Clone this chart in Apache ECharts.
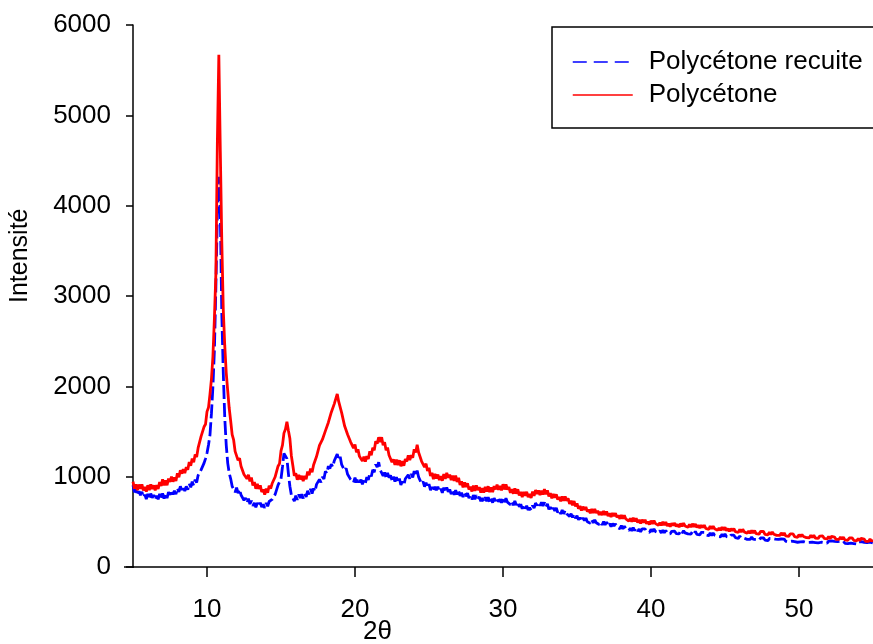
<!DOCTYPE html>
<html lang="fr">
<head>
    <meta charset="UTF-8">
    <title>Polycétone - diffraction</title>
    <script src="https://cdn.jsdelivr.net/npm/echarts@6/dist/echarts.min.js"></script>
    <style>
        html, body { margin: 0; padding: 0; background: #ffffff; }
        #main { width: 873px; height: 644px; }
    </style>
</head>
<body>
<div id="main"></div>

<script type="text/javascript">
    // 2θ grid : 5 -> 55 par pas de 0.1 (une ligne = 2 degrés)
    var thetaStart = 5;
    var thetaStep = 0.1;
    var xTicks = [10, 20, 30, 40, 50];

    // Polycétone recuite (bleu, tirets)
    var recuite = [
        905, 827, 858, 793, 840, 794, 832, 770, 801, 751, 810, 759, 813, 766, 797, 744, 790, 749, 810, 761,
        815, 758, 810, 763, 830, 798, 852, 802, 845, 805, 874, 831, 893, 852, 889, 841, 892, 856, 922, 882,
        945, 902, 968, 935, 1015, 1006, 1075, 1075, 1150, 1200, 1262, 1350, 1460, 1700, 2000, 2400, 3100, 3900, 4320, 3900,
        2800, 2150, 1650, 1350, 1150, 1040, 976, 893, 891, 827, 878, 817, 860, 797, 811, 738, 764, 709, 757, 697,
        735, 676, 710, 662, 709, 674, 712, 663, 693, 655, 710, 672, 725, 703, 748, 733, 802, 811, 907, 905,
        975, 1108, 1258, 1255, 1200, 1034, 894, 798, 786, 730, 790, 743, 803, 765, 806, 759, 811, 777, 844, 803,
        865, 813, 870, 836, 915, 900, 970, 938, 999, 975, 1060, 1036, 1117, 1089, 1139, 1108, 1176, 1162, 1250, 1182,
        1220, 1132, 1153, 1067, 1093, 1026, 1044, 970, 989, 935, 990, 934, 983, 936, 967, 916, 964, 928, 995, 964,
        1037, 1002, 1076, 1050, 1137, 1106, 1160, 1075, 1083, 1010, 1046, 991, 1041, 989, 1015, 958, 999, 946, 994, 936,
        980, 908, 946, 905, 977, 956, 1020, 978, 1029, 991, 1061, 1012, 1067, 994, 999, 923, 946, 889, 934, 875,
        917, 851, 886, 836, 888, 850, 889, 836, 866, 822, 878, 831, 880, 834, 859, 807, 844, 800, 851, 802,
        845, 787, 822, 774, 821, 783, 817, 764, 789, 746, 796, 750, 795, 753, 776, 728, 762, 724, 772, 729,
        772, 718, 757, 712, 763, 730, 769, 721, 751, 711, 764, 718, 762, 718, 740, 690, 724, 684, 732, 685,
        723, 666, 694, 644, 685, 647, 677, 631, 658, 627, 682, 653, 708, 682, 717, 678, 716, 676, 715, 666,
        698, 638, 664, 615, 656, 621, 653, 604, 628, 587, 632, 588, 628, 589, 611, 561, 589, 548, 587, 539,
        568, 522, 547, 508, 543, 515, 541, 500, 519, 485, 523, 488, 523, 490, 508, 470, 497, 467, 503, 467,
        497, 456, 481, 447, 481, 455, 479, 440, 456, 424, 457, 423, 453, 423, 439, 404, 428, 401, 435, 403,
        431, 396, 420, 390, 421, 399, 423, 392, 410, 384, 418, 391, 421, 394, 409, 379, 402, 377, 407, 379,
        405, 372, 394, 367, 395, 375, 397, 370, 388, 367, 399, 375, 402, 378, 392, 366, 387, 365, 393, 368,
        393, 361, 383, 356, 384, 363, 383, 354, 370, 346, 376, 350, 375, 351, 364, 337, 357, 334, 362, 337,
        365, 336, 354, 329, 353, 334, 352, 325, 339, 317, 342, 319, 341, 319, 331, 306, 325, 306, 331, 308,
        329, 303, 320, 298, 321, 304, 322, 298, 311, 292, 316, 296, 317, 298, 309, 287, 305, 287, 310, 289,
        309, 285, 301, 280, 301, 286, 302, 280, 292, 274, 296, 278, 298, 281, 292, 272, 288, 273, 294, 275,
        294, 271, 287, 267, 288, 274, 290, 269, 282, 264, 287, 269, 289, 272, 284, 263, 280, 264, 286, 266,
        286, 262, 279, 258, 280, 265, 282, 260, 273, 255, 278, 259, 280, 262, 274, 253, 270, 254, 276, 256,
        265
    ];

    // Polycétone (rouge, continu)
    var polycetone = [
        945, 868, 915, 850, 913, 865, 914, 848, 887, 834, 905, 850, 915, 865, 904, 849, 906, 865, 941, 897,
        970, 903, 960, 905, 978, 941, 1001, 944, 992, 952, 1037, 994, 1070, 1033, 1084, 1039, 1106, 1076, 1161, 1122,
        1200, 1160, 1245, 1218, 1318, 1334, 1446, 1447, 1552, 1580, 1720, 1765, 1910, 2080, 2330, 2750, 3250, 4700, 5670, 4600,
        3600, 2850, 2450, 2150, 1950, 1760, 1618, 1466, 1406, 1280, 1277, 1181, 1205, 1116, 1114, 1024, 1046, 976, 1021, 948,
        990, 903, 940, 866, 920, 864, 904, 830, 860, 801, 867, 822, 900, 868, 924, 904, 996, 998, 1116, 1145,
        1285, 1350, 1482, 1525, 1608, 1510, 1422, 1232, 1123, 1010, 1037, 966, 1020, 970, 1009, 952, 1008, 973, 1056, 1015,
        1090, 1048, 1130, 1112, 1223, 1236, 1346, 1327, 1412, 1398, 1507, 1494, 1600, 1613, 1714, 1704, 1806, 1803, 1916, 1830,
        1840, 1706, 1695, 1560, 1553, 1466, 1476, 1386, 1400, 1316, 1357, 1269, 1302, 1225, 1236, 1172, 1221, 1166, 1228, 1195,
        1280, 1238, 1320, 1292, 1393, 1366, 1436, 1384, 1437, 1348, 1382, 1292, 1322, 1238, 1242, 1160, 1191, 1131, 1188, 1127,
        1182, 1115, 1172, 1120, 1196, 1168, 1236, 1184, 1237, 1208, 1304, 1268, 1352, 1268, 1269, 1170, 1184, 1106, 1144, 1063,
        1098, 1008, 1042, 972, 1030, 979, 1024, 962, 1004, 954, 1028, 975, 1042, 989, 1024, 962, 1011, 953, 1011, 942,
        988, 909, 947, 881, 937, 886, 926, 858, 889, 836, 900, 844, 903, 851, 883, 824, 871, 824, 887, 835,
        894, 829, 881, 828, 897, 859, 912, 855, 896, 848, 916, 858, 914, 858, 885, 821, 862, 811, 869, 811,
        861, 791, 833, 774, 831, 789, 832, 774, 809, 765, 834, 788, 851, 809, 847, 796, 846, 802, 862, 804,
        848, 782, 817, 760, 809, 767, 805, 747, 775, 727, 782, 732, 781, 734, 760, 700, 733, 684, 730, 671,
        705, 645, 675, 625, 668, 631, 664, 613, 637, 595, 643, 599, 641, 599, 622, 576, 612, 574, 621, 576,
        615, 563, 596, 553, 597, 564, 596, 549, 573, 533, 577, 534, 572, 532, 552, 508, 539, 502, 545, 504,
        540, 492, 522, 482, 523, 492, 522, 480, 504, 469, 513, 476, 515, 480, 501, 462, 492, 460, 500, 464,
        497, 454, 482, 446, 484, 458, 487, 449, 472, 441, 482, 449, 486, 455, 476, 440, 470, 442, 479, 445,
        477, 437, 463, 429, 463, 438, 463, 427, 446, 417, 453, 421, 453, 424, 441, 407, 433, 406, 441, 410,
        440, 402, 426, 394, 426, 402, 426, 392, 410, 382, 416, 386, 417, 389, 406, 374, 399, 373, 406, 376,
        403, 369, 391, 363, 393, 371, 393, 362, 379, 355, 386, 360, 388, 363, 378, 350, 372, 349, 378, 352,
        377, 344, 366, 338, 366, 345, 366, 337, 353, 329, 359, 334, 360, 337, 351, 325, 346, 324, 352, 327,
        351, 321, 341, 316, 342, 324, 343, 317, 332, 310, 338, 314, 339, 317, 331, 306, 325, 305, 331, 308,
        331, 301, 321, 296, 321, 303, 322, 296, 311, 289, 316, 292, 317, 295, 309, 284, 303, 283, 310, 287,
        295
    ];

    function toPairs(values) {
        return values.map(function (v, i) {
            return [+(thetaStart + i * thetaStep).toFixed(1), v];
        });
    }

    var font = '"Liberation Sans", Arial, sans-serif';
    var myChart = echarts.init(document.getElementById('main'));

    var option = {
        animation: false,
        backgroundColor: '#ffffff',
        textStyle: { fontFamily: font, color: '#000000' },
        grid: { left: 133, top: 25, right: -13, bottom: 77 },
        legend: {
            orient: 'vertical',
            left: 552,
            top: 27,
            padding: [22, 30, 20, 20],
            itemGap: 7,
            itemWidth: 60,
            itemHeight: 14,
            backgroundColor: '#ffffff',
            borderColor: '#000000',
            borderWidth: 1.5,
            borderRadius: 0,
            itemStyle: { opacity: 0 },
            lineStyle: { width: 1.5 },
            textStyle: {
                fontFamily: font,
                fontSize: 26,
                lineHeight: 26,
                color: '#000000',
                padding: [0, 0, 0, 11]
            },
            data: [
                { name: 'Polycétone recuite', lineStyle: { type: [14, 7] } },
                { name: 'Polycétone' }
            ]
        },
        xAxis: {
            type: 'value',
            min: 5,
            max: 55,
            splitLine: { show: false },
            axisLine: { lineStyle: { color: '#000000', width: 1.5 } },
            axisTick: {
                customValues: xTicks,
                length: 10,
                lineStyle: { color: '#000000', width: 1.5 }
            },
            axisLabel: {
                customValues: xTicks,
                margin: 30,
                fontSize: 26,
                fontFamily: font,
                color: '#000000'
            }
        },
        yAxis: {
            type: 'value',
            min: 0,
            max: 6000,
            interval: 1000,
            splitLine: { show: false },
            axisLine: { show: true, lineStyle: { color: '#000000', width: 1.5 } },
            axisTick: { show: true, length: 7, lineStyle: { color: '#000000', width: 1.5 } },
            axisLabel: {
                margin: 22,
                fontSize: 26,
                fontFamily: font,
                color: '#000000',
                formatter: function (v) { return String(v); }
            }
        },
        graphic: [
            {
                type: 'line',
                shape: { x1: 124, y1: 567, x2: 134, y2: 567 },
                style: { stroke: '#000000', lineWidth: 1.5 }
            },
            {
                type: 'text',
                left: 363,
                top: 619,
                style: { text: '2θ', font: '26px ' + font, fill: '#000000' }
            },
            {
                type: 'text',
                x: 8,
                y: 303,
                rotation: Math.PI / 2,
                style: { text: 'Intensité', font: '25px ' + font, fill: '#000000' }
            }
        ],
        series: [
            {
                name: 'Polycétone recuite',
                type: 'line',
                symbol: 'none',
                showSymbol: false,
                color: '#0000ff',
                lineStyle: { color: '#0000ff', width: 2.8, type: [14, 4] },
                data: toPairs(recuite)
            },
            {
                name: 'Polycétone',
                type: 'line',
                symbol: 'none',
                showSymbol: false,
                color: '#ff0000',
                lineStyle: { color: '#ff0000', width: 2.8 },
                data: toPairs(polycetone)
            }
        ]
    };

    myChart.setOption(option);
</script>
</body>
</html>
